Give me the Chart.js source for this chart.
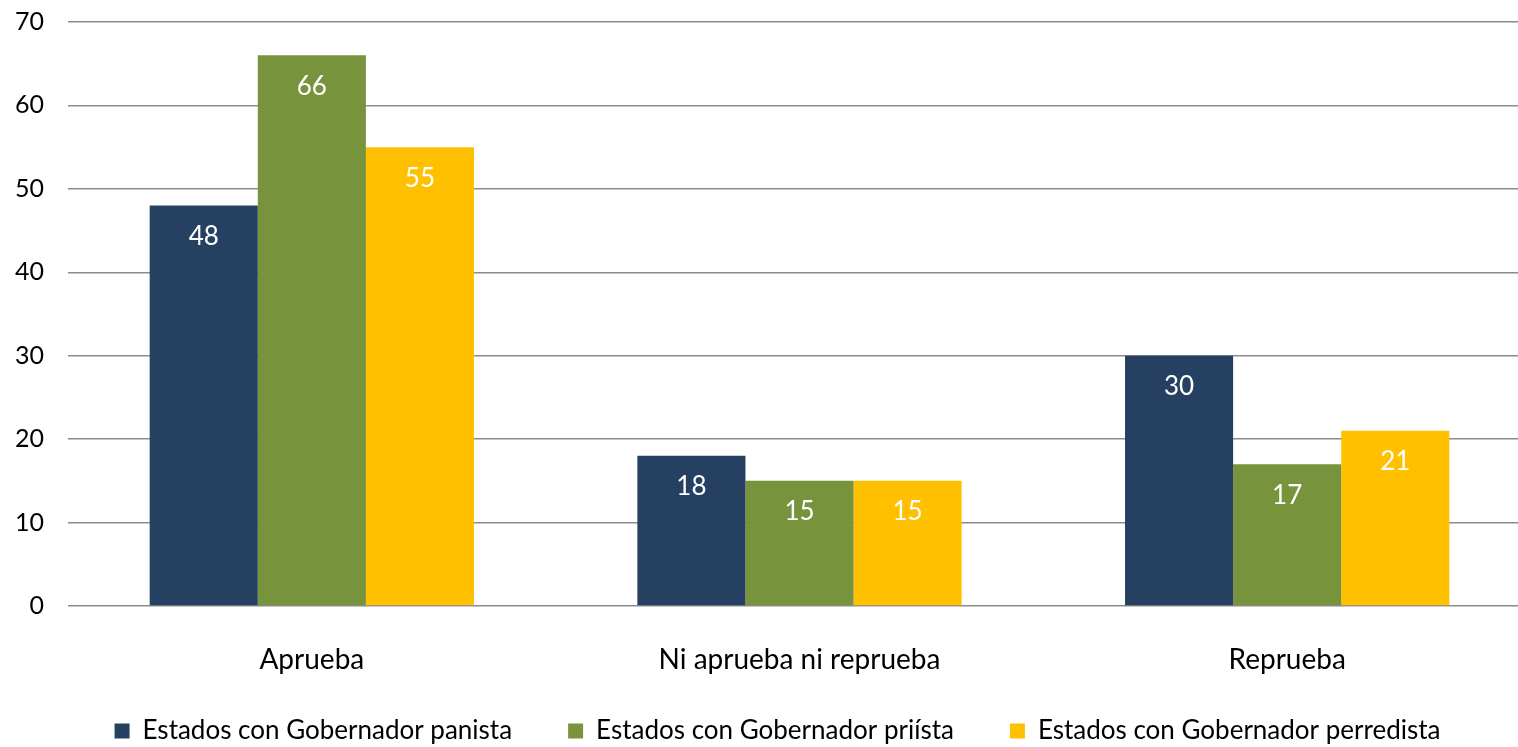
<!DOCTYPE html>
<html>
<head>
<meta charset="utf-8">
<script src="https://cdn.jsdelivr.net/npm/chart.js@4/dist/chart.umd.min.js"></script>
<style>
  html, body { margin: 0; padding: 0; background: #fff; overflow: hidden; }
  /* plot runs slightly past the right edge of the window, as in the original */
  #wrap { width: 1531px; height: 747px; }
</style>
</head>
<body>
<div id="wrap"><canvas id="chart"></canvas></div>
<script>
// categories and series
const categories = ['Aprueba', 'Ni aprueba ni reprueba', 'Reprueba'];
const panista = [48, 18, 30];
const priista = [66, 15, 17];
const perredista = [55, 15, 21];
const yTicks = [0, 10, 20, 30, 40, 50, 60, 70];

const FONT = 'Lato, "Open Sans", sans-serif';

// white value labels inside the top of each bar
const barLabels = {
  id: 'barLabels',
  afterDatasetsDraw(chart) {
    const ctx = chart.ctx;
    ctx.save();
    ctx.fillStyle = '#ffffff';
    ctx.font = '26px ' + FONT;
    ctx.textAlign = 'center';
    ctx.textBaseline = 'middle';
    chart.data.datasets.forEach((ds, i) => {
      chart.getDatasetMeta(i).data.forEach((bar, j) => {
        ctx.fillText(ds.data[j], bar.x, bar.y + 31);
      });
    });
    ctx.restore();
  }
};

new Chart(document.getElementById('chart'), {
  type: 'bar',
  data: {
    labels: categories,
    datasets: [
      { label: 'Estados con Gobernador panista', data: panista, backgroundColor: '#264061' },
      { label: 'Estados con Gobernador priísta', data: priista, backgroundColor: '#77933c' },
      { label: 'Estados con Gobernador perredista', data: perredista, backgroundColor: '#ffc000' }
    ]
  },
  options: {
    responsive: true,
    maintainAspectRatio: false,
    animation: false,
    layout: { padding: { top: 22, right: 0, left: 24, bottom: -7 } },
    datasets: { bar: { barPercentage: 1, categoryPercentage: 0.665 } },
    plugins: {
      legend: {
        position: 'bottom',
        labels: {
          boxWidth: 15, boxHeight: 15, padding: 56,
          color: '#000', font: { family: FONT, size: 26 }
        }
      },
      tooltip: { enabled: false }
    },
    scales: {
      x: {
        grid: { display: false },
        border: { display: false },
        ticks: { color: '#000', padding: 29, font: { family: FONT, size: 28 } },
        afterFit(scale) {
          scale.height = 56;
          scale.paddingLeft = 0;
          scale.paddingRight = 0;
          // labels hang below the axis box, over the legend gap
          scale._computeLabelArea = () => undefined;
        }
      },
      y: {
        min: 0, max: 70,
        afterBuildTicks(scale) { scale.ticks = yTicks.map(v => ({ value: v })); },
        grid: { color: '#8c8c8c', lineWidth: 1.5, drawTicks: false },
        border: { display: false },
        ticks: { color: '#000', padding: 24, font: { family: FONT, size: 25 } },
        afterFit(scale) {
          scale.width = 44;
          scale.paddingTop = 0;
          scale.paddingBottom = 0;
          scale._computeLabelArea = () => undefined;
        }
      }
    }
  },
  plugins: [barLabels]
});
</script>
</body>
</html>
